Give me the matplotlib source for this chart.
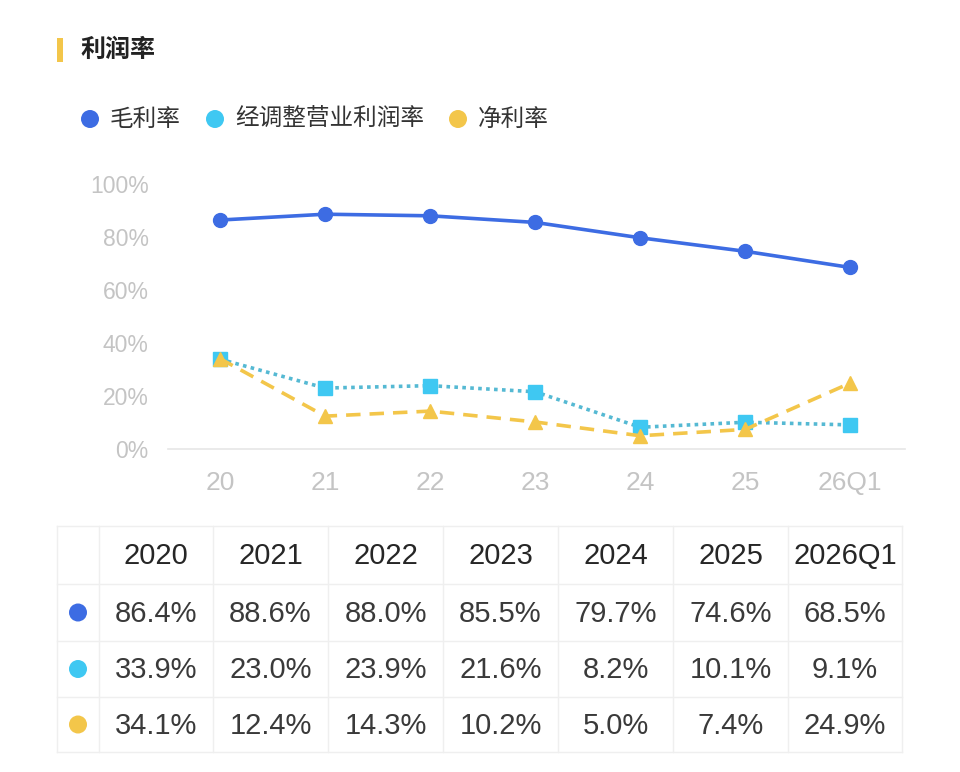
import matplotlib
matplotlib.use("Agg")
import matplotlib.pyplot as plt
from matplotlib.patches import Rectangle, Circle

plt.rcParams['font.family'] = ['Liberation Sans', 'Noto Sans CJK SC', 'DejaVu Sans']

title = "利润率"
x_labels = ["20", "21", "22", "23", "24", "25", "26Q1"]
col_labels = ["2020", "2021", "2022", "2023", "2024", "2025", "2026Q1"]
series_names = ["毛利率", "经调整营业利润率", "净利率"]
gross = [86.4, 88.6, 88.0, 85.5, 79.7, 74.6, 68.5]
adj_op = [33.9, 23.0, 23.9, 21.6, 8.2, 10.1, 9.1]
net = [34.1, 12.4, 14.3, 10.2, 5.0, 7.4, 24.9]
y_ticks = [0, 20, 40, 60, 80, 100]

c_blue = "#3d6ce3"
c_cyan = "#3fc8f2"
c_cyan_line = "#55b9d3"
c_yellow = "#f3c64a"

W, H = 960, 772
fig = plt.figure(figsize=(W / 100, H / 100), dpi=100)
fig.patch.set_facecolor("white")

# chart axes
ax = fig.add_axes([168 / W, 1 - 449 / H, (905 - 168) / W, (449 - 184) / H])
xs = list(range(len(x_labels)))
ax.plot(xs, gross, color=c_blue, lw=2.6, marker="o", ms=10, mfc=c_blue, mec=c_blue, zorder=3, solid_capstyle="round")
ax.plot(xs, adj_op, color=c_cyan_line, lw=2.6, ls=(0, (1, 1.2)), marker="s", ms=10, mfc=c_cyan, mec=c_cyan, zorder=3)
ax.plot(xs, net, color=c_yellow, lw=2.6, ls=(0, (4, 2.5)), marker="^", ms=10, mfc=c_yellow, mec=c_yellow, zorder=4)
ax.set_xlim(-0.495, 6.52)
ax.set_ylim(0, 100)
ax.set_yticks(y_ticks)
ax.set_yticklabels([f"{v}%" for v in y_ticks])
ax.set_xticks(xs)
ax.set_xticklabels(x_labels)
for s in ["top", "right", "left"]:
    ax.spines[s].set_visible(False)
ax.spines["bottom"].set_color("#e6e6e6")
ax.spines["bottom"].set_linewidth(1.2)
ax.tick_params(axis="both", length=0, labelcolor="#c4c4c4")
ax.tick_params(axis="y", pad=14, labelsize=16.5)
ax.tick_params(axis="x", pad=16, labelsize=19)
ax.patch.set_alpha(0)
for ln in ax.lines:
    ln.set_clip_on(False)

# overlay axes in pixel coordinates
ov = fig.add_axes([0, 0, 1, 1], zorder=-1)
ov.set_xlim(0, W)
ov.set_ylim(H, 0)
ov.axis("off")

# title
ov.add_patch(Rectangle((57, 38), 6, 24, color=c_yellow, lw=0))
ov.text(80, 50, title, fontsize=18, fontweight="bold", color="#222222", va="center", ha="left",
        family=["Noto Sans CJK SC", "DejaVu Sans"])

# legend
colors = [c_blue, c_cyan, c_yellow]
leg_x = [90, 215, 458]
for cx, col, name in zip(leg_x, colors, series_names):
    ov.add_patch(Circle((cx, 119), 9, color=col, lw=0))
    ov.text(cx + 20, 119, name, fontsize=17, color="#333333", va="center", ha="left",
            family=["Noto Sans CJK SC", "DejaVu Sans"])

# table
vlines = [57, 99, 213, 328, 443, 558, 673, 788, 902]
hlines = [526, 584, 641, 697, 752]
grid_c = "#efefef"
for vx in vlines:
    ov.plot([vx, vx], [hlines[0], hlines[-1]], color=grid_c, lw=1)
for hy in hlines:
    ov.plot([vlines[0], vlines[-1]], [hy, hy], color=grid_c, lw=1)

row_centers = [(hlines[i] + hlines[i + 1]) / 2 for i in range(len(hlines) - 1)]
col_centers = [(vlines[i] + vlines[i + 1]) / 2 for i in range(1, len(vlines) - 1)]
for cx, lab in zip(col_centers, col_labels):
    ov.text(cx, row_centers[0] + 1, lab, fontsize=21, color="#262626", ha="center", va="center")
for r, (vals, col) in enumerate(zip([gross, adj_op, net], colors)):
    cy = row_centers[r + 1]
    ov.add_patch(Circle((78, cy), 9, color=col, lw=0))
    for cx, v in zip(col_centers, vals):
        ov.text(cx, cy + 1, f"{v:.1f}%", fontsize=21, color="#3a3a3a", ha="center", va="center")

fig.savefig("out.png", dpi=100, facecolor="white")
